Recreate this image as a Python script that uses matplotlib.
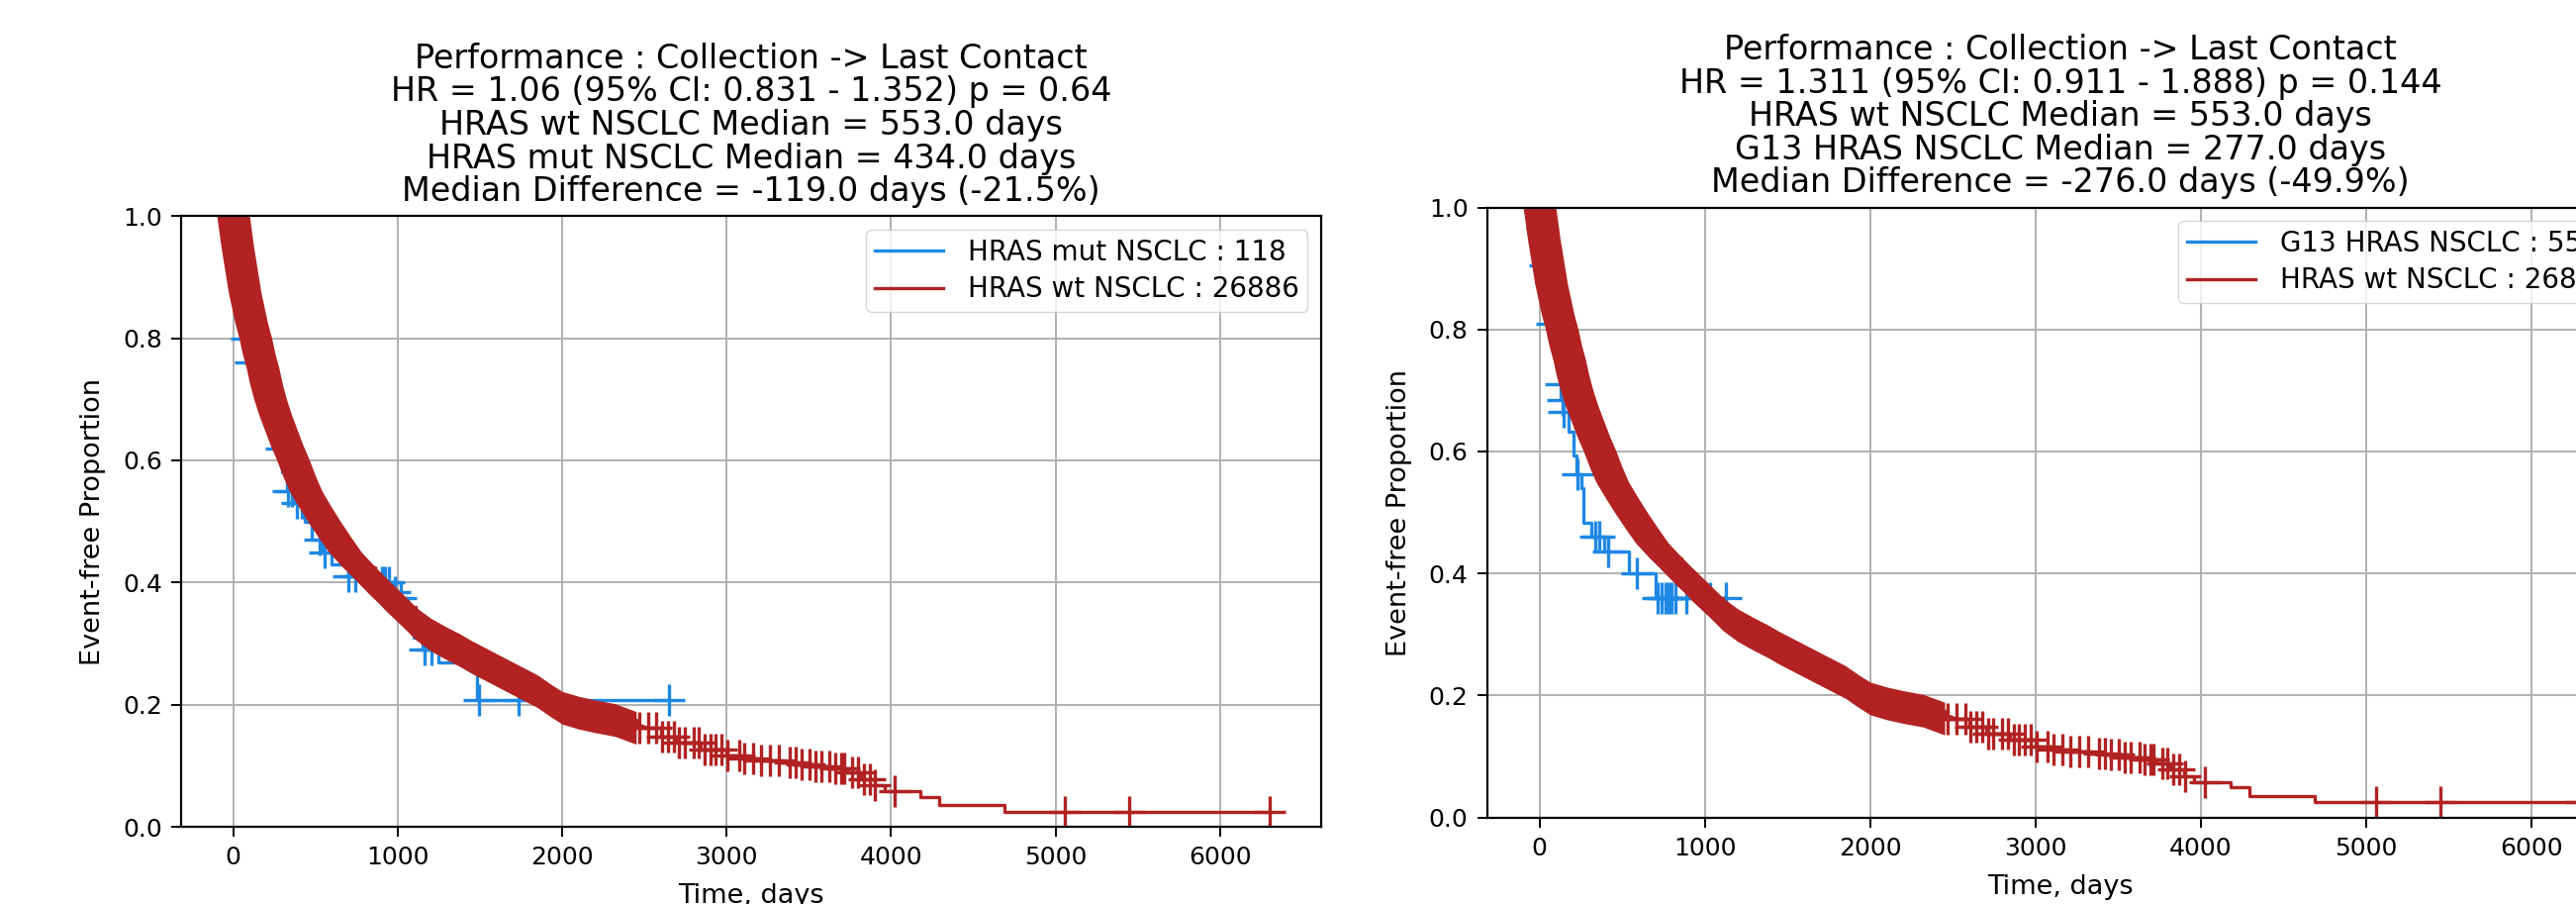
import numpy as np
import matplotlib.pyplot as plt

# Kaplan-Meier curves (time in days, event-free proportion)

# HRAS wt NSCLC, the same curve in both panels
wt_time = [0, 10, 25, 40, 55, 70, 90, 110, 135, 155, 180, 200, 225, 255, 290, 325, 365, 400,
           440, 495, 553, 615, 680, 765, 860, 930, 1010, 1110, 1200, 1300, 1380, 1450, 1550,
           1650, 1750, 1850, 1930, 2000, 2100, 2200, 2320, 2450, 2600, 2700, 2845, 3000, 3100,
           3210, 3320, 3420, 3530, 3630, 3730, 3815, 3900, 3960, 4180, 4295, 4690, 6300]
wt_surv = [1.0, 0.98, 0.95, 0.925, 0.90, 0.875, 0.85, 0.825, 0.80, 0.775, 0.75, 0.725, 0.70,
           0.675, 0.65, 0.625, 0.60, 0.575, 0.55, 0.525, 0.50, 0.475, 0.45, 0.425, 0.40, 0.38,
           0.36, 0.333, 0.315, 0.30, 0.289, 0.278, 0.264, 0.25, 0.236, 0.222, 0.207, 0.195,
           0.187, 0.181, 0.175, 0.162, 0.148, 0.138, 0.127, 0.116, 0.112, 0.108, 0.105, 0.103,
           0.099, 0.095, 0.089, 0.078, 0.068, 0.058, 0.049, 0.035, 0.025, 0.025]
# censoring is so dense up to here that the ticks merge into a solid band
wt_dense_until = 2450
wt_censor = [2469, 2521, 2573, 2608, 2642, 2677, 2711, 2746, 2798, 2832, 2867, 2901, 2935,
             2970, 3005, 3074, 3108, 3160, 3212, 3264, 3316, 3385, 3419, 3454, 3505, 3540,
             3574, 3626, 3661, 3695, 3712, 3764, 3799, 3833, 3868, 3902, 4023, 5059, 5447, 6300]

# HRAS mut NSCLC (left panel)
mut_time = [0, 15, 35, 50, 70, 100, 140, 180, 220, 260, 300, 330, 370, 434, 480, 540, 600,
            700, 900, 980, 1010, 1060, 1100, 1150, 1250, 1480, 2648]
mut_surv = [1.0, 0.95, 0.90, 0.85, 0.80, 0.76, 0.72, 0.68, 0.65, 0.62, 0.58, 0.55, 0.53, 0.50,
            0.47, 0.45, 0.43, 0.41, 0.40, 0.385, 0.375, 0.34, 0.31, 0.29, 0.27, 0.208, 0.208]
mut_censor = [80, 105, 293, 335, 360, 390, 420, 526, 556, 700, 740, 905, 925, 945, 985, 1017,
              1165, 1206, 1494, 1737, 2648]

# G13 HRAS NSCLC (right panel)
g13_time = [0, 8, 20, 30, 50, 68, 90, 110, 125, 135, 144, 174, 203, 223, 253, 263, 313, 393,
            542, 702, 1130]
g13_surv = [1.0, 0.967, 0.945, 0.905, 0.87, 0.81, 0.77, 0.73, 0.71, 0.685, 0.665, 0.632, 0.594,
            0.562, 0.54, 0.4825, 0.461, 0.436, 0.401, 0.359, 0.359]
g13_censor = [12, 34, 74, 127, 137, 146, 230, 340, 359, 413, 586, 712, 737, 761, 781, 801, 821,
              890, 1030, 1130]

titles = [
    "Performance : Collection -> Last Contact\n"
    "HR = 1.06 (95% CI: 0.831 - 1.352) p = 0.64\n"
    "HRAS wt NSCLC Median = 553.0 days\n"
    "HRAS mut NSCLC Median = 434.0 days\n"
    "Median Difference = -119.0 days (-21.5%)",
    "Performance : Collection -> Last Contact\n"
    "HR = 1.311 (95% CI: 0.911 - 1.888) p = 0.144\n"
    "HRAS wt NSCLC Median = 553.0 days\n"
    "G13 HRAS NSCLC Median = 277.0 days\n"
    "Median Difference = -276.0 days (-49.9%)",
]
mut_labels = ["HRAS mut NSCLC : 118", "G13 HRAS NSCLC : 55"]
wt_label = "HRAS wt NSCLC : 26886"

BLUE = "#1e88e5"
RED = "#b22222"
TICK_PX = 16.5  # half size of a censor "+" in pixels


# value of a step curve at the given times
def step_value(times, surv, at):
    idx = np.searchsorted(times, at, side="right") - 1
    return np.asarray(surv)[idx]


def km_plot(ax, times, surv, censor, color, label, z):
    ax.plot(times, surv, drawstyle="steps-post", color=color, lw=2.4, label=label, zorder=z)
    ax.plot(censor, step_value(times, surv, censor), ls="none", marker="+",
            ms=23, mew=2.4, color=color, zorder=z)


# thousands of overlapping "+" ticks: union of the curve swept sideways and up/down
def dense_band(ax, times, surv, until, color, z):
    t = np.asarray(times, dtype=float)
    s = np.asarray(surv, dtype=float)
    keep = t <= until
    xl = ax.get_xlim()
    yl = ax.get_ylim()
    dx = TICK_PX * (xl[1] - xl[0]) / ax.bbox.width
    dy = TICK_PX * (yl[1] - yl[0]) / ax.bbox.height
    ax.fill_between(t[keep], s[keep] - dy, s[keep] + dy, color=color, lw=0, zorder=z)
    ax.fill_betweenx(s[keep], t[keep] - dx, t[keep] + dx, color=color, lw=0, zorder=z)
    ax.set_xlim(xl)
    ax.set_ylim(yl)


fig = plt.figure(figsize=(26.03, 9.13), dpi=100)
ax_left = fig.add_axes([0.0704, 0.0854, 0.4425, 0.6755])
ax_right = fig.add_axes([0.5774, 0.0958, 0.4449, 0.6747])

panels = [(ax_left, mut_time, mut_surv, mut_censor), (ax_right, g13_time, g13_surv, g13_censor)]
for i, (ax, t, s, c) in enumerate(panels):
    km_plot(ax, t, s, c, BLUE, mut_labels[i], 2)
    km_plot(ax, wt_time, wt_surv, wt_censor, RED, wt_label, 2.5)
    ax.set_ylim(0, 1.0)
    dense_band(ax, wt_time, wt_surv, wt_dense_until, RED, 2.5)

    ax.grid(True, color="#b0b0b0", lw=1.4)
    ax.set_title(titles[i], fontsize=24, linespacing=1.02, pad=11)
    ax.set_xlabel("Time, days", fontsize=19.5, labelpad=10)
    ax.set_ylabel("Event-free Proportion", fontsize=19.5, labelpad=12)
    ax.tick_params(labelsize=18, length=7, width=1.4, pad=7)
    for sp in ax.spines.values():
        sp.set_linewidth(1.6)
    ax.legend(loc="upper right", fontsize=20, handlelength=2.5, handletextpad=0.9,
              labelspacing=0.35, borderpad=0.3)

fig.savefig("out.png", dpi=100)
